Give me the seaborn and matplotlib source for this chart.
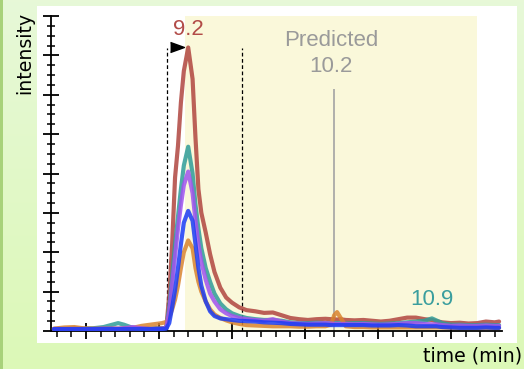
import numpy as np
import pandas as pd
import matplotlib
matplotlib.use("Agg")
import matplotlib.pyplot as plt
from matplotlib.patches import Rectangle
import seaborn as sns

# ---- data -------------------------------------------------------------
time_min = [8.28, 8.35, 8.42, 8.48, 8.55, 8.62, 8.68, 8.72, 8.76, 8.82, 8.88, 8.94, 8.98, 9.02,
            9.05, 9.07, 9.09, 9.11, 9.13, 9.15, 9.17, 9.20, 9.23, 9.25, 9.27, 9.29, 9.32, 9.35,
            9.38, 9.42, 9.46, 9.50, 9.55, 9.60,
            9.66, 9.72, 9.78, 9.84, 9.90, 9.96, 10.02, 10.08, 10.14, 10.18, 10.20, 10.22, 10.24,
            10.28, 10.34, 10.40, 10.46, 10.52, 10.58, 10.64, 10.70, 10.76, 10.82, 10.87, 10.90,
            10.94, 11.00, 11.06, 11.12, 11.18, 11.24, 11.30, 11.33]

trace_brown = [0.05, 0.05, 0.06, 0.05, 0.05, 0.06, 0.06, 0.05, 0.05, 0.05, 0.06, 0.06, 0.07, 0.07,
               0.08, 0.90, 2.20, 3.90, 4.70, 5.80, 6.60, 7.20, 6.40, 4.90, 3.60, 3.00, 2.50, 1.95,
               1.50, 1.10, 0.85, 0.72, 0.60, 0.53,
               0.50, 0.46, 0.47, 0.40, 0.33, 0.30, 0.28, 0.30, 0.31, 0.30, 0.30, 0.29, 0.30,
               0.28, 0.27, 0.28, 0.26, 0.24, 0.26, 0.30, 0.34, 0.34, 0.30, 0.28, 0.25,
               0.22, 0.20, 0.21, 0.19, 0.20, 0.24, 0.22, 0.24]

trace_teal = [0.05, 0.05, 0.05, 0.06, 0.07, 0.10, 0.16, 0.20, 0.16, 0.08, 0.06, 0.05, 0.06, 0.06,
              0.08, 0.60, 1.40, 2.20, 2.90, 3.60, 4.20, 4.68, 4.00, 3.20, 2.60, 2.10, 1.60, 1.25,
              0.95, 0.70, 0.55, 0.45, 0.38, 0.33,
              0.30, 0.28, 0.28, 0.26, 0.22, 0.20, 0.20, 0.21, 0.20, 0.20, 0.20, 0.20, 0.20,
              0.19, 0.20, 0.20, 0.19, 0.18, 0.19, 0.20, 0.22, 0.24, 0.26, 0.32, 0.27,
              0.20, 0.16, 0.16, 0.15, 0.15, 0.16, 0.15, 0.15]

trace_purple = [0.05, 0.05, 0.05, 0.05, 0.05, 0.06, 0.06, 0.06, 0.07, 0.10, 0.07, 0.05, 0.05, 0.06,
                0.08, 0.50, 1.20, 1.90, 2.60, 3.20, 3.70, 4.05, 3.50, 2.80, 2.20, 1.75, 1.30, 0.95,
                0.75, 0.55, 0.45, 0.38, 0.33, 0.30,
                0.28, 0.26, 0.30, 0.24, 0.20, 0.19, 0.18, 0.19, 0.20, 0.19, 0.18, 0.18, 0.18,
                0.18, 0.17, 0.18, 0.17, 0.16, 0.17, 0.18, 0.20, 0.20, 0.18, 0.17, 0.17,
                0.15, 0.13, 0.14, 0.13, 0.13, 0.14, 0.13, 0.13]

trace_blue = [0.05, 0.05, 0.05, 0.05, 0.05, 0.05, 0.05, 0.05, 0.05, 0.05, 0.05, 0.05, 0.05, 0.05,
              0.06, 0.20, 0.60, 1.04, 1.60, 2.20, 2.75, 3.05, 2.80, 2.20, 1.60, 1.15, 0.75, 0.50,
              0.38, 0.32, 0.30, 0.28, 0.26, 0.25,
              0.24, 0.22, 0.21, 0.20, 0.18, 0.17, 0.16, 0.16, 0.16, 0.15, 0.15, 0.15, 0.15,
              0.15, 0.15, 0.15, 0.14, 0.14, 0.14, 0.15, 0.14, 0.12, 0.12, 0.12, 0.12,
              0.10, 0.09, 0.08, 0.08, 0.08, 0.09, 0.08, 0.08]

trace_orange = [0.06, 0.09, 0.10, 0.07, 0.06, 0.06, 0.06, 0.06, 0.07, 0.08, 0.13, 0.16, 0.18, 0.20,
                0.23, 0.35, 0.55, 0.80, 1.15, 1.60, 2.00, 2.30, 2.10, 1.60, 1.25, 1.00, 0.75, 0.55,
                0.42, 0.33, 0.27, 0.22, 0.18, 0.15,
                0.14, 0.13, 0.12, 0.12, 0.12, 0.11, 0.11, 0.12, 0.12, 0.16, 0.40, 0.48, 0.36,
                0.12, 0.10, 0.10, 0.09, 0.09, 0.09, 0.09, 0.09, 0.09, 0.09, 0.09, 0.09,
                0.09, 0.08, 0.08, 0.08, 0.08, 0.08, 0.08, 0.08]

trace_names = ["brown", "teal", "orange", "purple", "blue"]
trace_colors = ["#b0453f", "#2f9c98", "#d9842f", "#a052ee", "#1a3cf5"]

observed_rt = 9.2
observed_height = 7.2
predicted_rt = 10.2
window_lo, window_hi = 9.18, 11.18
integration_bounds = [9.055, 9.57]
secondary_rt = 10.87
secondary_label = "10.9"

df = pd.DataFrame({"time": time_min,
                   "brown": trace_brown, "teal": trace_teal, "orange": trace_orange,
                   "purple": trace_purple, "blue": trace_blue})
long_df = df.melt(id_vars="time", var_name="trace", value_name="intensity")

# ---- figure -----------------------------------------------------------
sns.set_style("ticks")
plt.rcParams["font.family"] = ["DejaVu Sans"]

W, H = 524, 369
fig = plt.figure(figsize=(W / 100, H / 100), dpi=100)

# backdrop: soft green gradient, darker left rim, white panel
bg = fig.add_axes([0, 0, 1, 1], zorder=-10)
top_c = np.array([0.906, 0.973, 0.847])
bot_c = np.array([0.863, 0.976, 0.718])
grad = np.linspace(0, 1, 256)[:, None, None]
img = top_c * (1 - grad) + bot_c * grad
bg.imshow(img, aspect="auto", extent=[0, 1, 0, 1], transform=bg.transAxes)
bg.add_patch(Rectangle((0, 0), 3 / W, 1, transform=bg.transAxes,
                       facecolor="#a8d27a", edgecolor="none"))
bg.add_patch(Rectangle((37 / W, (H - 343) / H), (517 - 37) / W, (343 - 6) / H,
                       transform=bg.transAxes, facecolor="white", edgecolor="none"))
bg.set_xlim(0, 1)
bg.set_ylim(0, 1)
bg.axis("off")

ax = fig.add_axes([51 / W, (H - 331) / H, (502 - 51) / W, (331 - 16) / H], zorder=1)
ax.set_facecolor("white")

# retention window
ax.axvspan(window_lo, window_hi, color="#faf8da", zorder=0, lw=0)

sns.lineplot(data=long_df, x="time", y="intensity", hue="trace",
             hue_order=trace_names, palette=trace_colors, sort=False,
             linewidth=3.0, alpha=0.85, legend=False, ax=ax, zorder=3)

# peak bounds and predicted position
ax.vlines(integration_bounds, 0, observed_height, colors="black",
          linestyles=(0, (3, 2)), linewidth=0.9, zorder=2)
ax.vlines(predicted_rt, 0, 6.15, colors="#a3a3a3", linewidth=1.2, zorder=2)
tri = [(-1, 0.72), (1, 0), (-1, -0.72)]
ax.plot([9.122], [7.21], marker=tri, markersize=10, color="black",
        linestyle="none", zorder=4)

ann_font = ["Liberation Sans"]
ax.text(observed_rt, 7.52, f"{observed_rt:.1f}", ha="center", va="baseline",
        color="#b24c48", fontsize=16, family=ann_font, zorder=5)
ax.text(predicted_rt - 0.02, 7.24, "Predicted", ha="center", va="baseline",
        color="#9a9a9a", fontsize=16, family=ann_font, zorder=5)
ax.text(predicted_rt - 0.02, 6.58, f"{predicted_rt:.1f}", ha="center", va="baseline",
        color="#9a9a9a", fontsize=16, family=ann_font, zorder=5)
ax.text(secondary_rt, 0.66, secondary_label, ha="center", va="baseline",
        color="#3a9e9e", fontsize=16, family=ann_font, zorder=5)

# axes styling
ax.set_xlim(8.26, 11.35)
ax.set_ylim(0, 8)
ax.set_xticks(np.arange(8.5, 11.01, 0.5))
ax.set_xticks(np.arange(8.3, 11.31, 0.1), minor=True)
ax.set_yticks(np.arange(0, 8.01, 1))
ax.set_yticks(np.arange(0, 8.01, 0.25), minor=True)
ax.set_xticklabels([])
ax.set_yticklabels([])
ax.tick_params(axis="x", which="major", direction="inout", length=12, width=1.3, color="black")
ax.tick_params(axis="x", which="minor", direction="out", length=4.5, width=1.1, color="black")
ax.tick_params(axis="y", which="major", direction="inout", length=12, width=1.3, color="black")
ax.tick_params(axis="y", which="minor", direction="inout", length=6, width=1.1, color="black")
for side in ("top", "right"):
    ax.spines[side].set_visible(False)
for side in ("left", "bottom"):
    ax.spines[side].set_linewidth(1.3)
    ax.spines[side].set_color("black")
ax.set_xlabel("")
ax.set_ylabel("")

fig.text(25 / W, (H - 53) / H, "intensity", rotation=90, ha="center", va="center",
         fontsize=13.6, color="black")
fig.text(522 / W, 7 / H, "time (min)", ha="right", va="baseline",
         fontsize=13.6, color="black")

fig.savefig("out.png", dpi=100)
